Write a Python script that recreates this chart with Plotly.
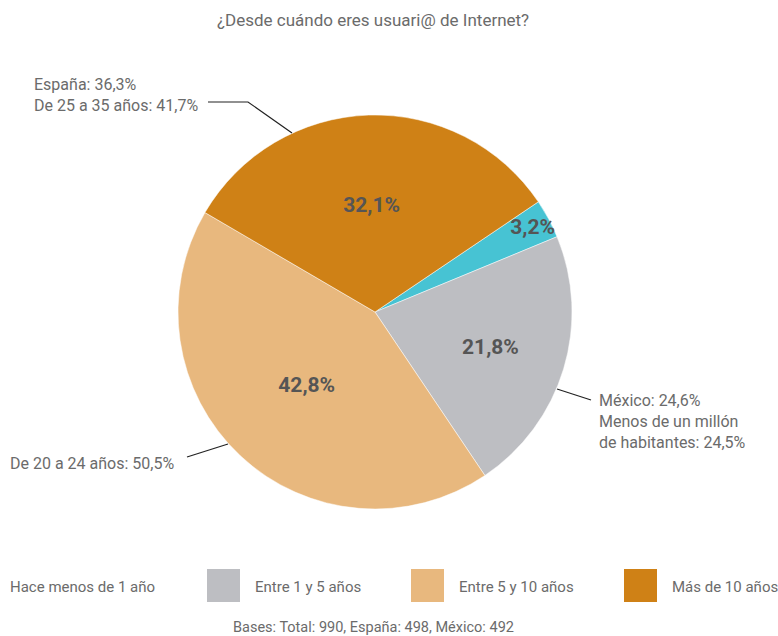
import plotly.graph_objects as go

categories = ["Hace menos de 1 año", "Entre 1 y 5 años", "Entre 5 y 10 años", "Más de 10 años"]
values = [3.2, 21.8, 42.8, 32.1]
colors = ["#47C3D3", "#BDBEC2", "#E8B87E", "#CF8116"]
title_text = "¿Desde cuándo eres usuari@ de Internet?"
footer_text = "Bases: Total: 990, España: 498, México: 492"
callouts = [
    "España: 36,3%<br>De 25 a 35 años: 41,7%",
    "México: 24,6%<br>Menos de un millón<br>de habitantes: 24,5%",
    "De 20 a 24 años: 50,5%",
]

W, H = 778, 636
FONT = "Roboto"
TXT = "#6b6b6b"

def px(x):
    return x / W

def py(y):
    return 1 - y / H

cx, cy, r = 375, 312, 197

fig = go.Figure(go.Pie(
    labels=categories,
    values=values,
    marker=dict(colors=colors, line=dict(color="white", width=0.5)),
    sort=False,
    direction="clockwise",
    rotation=56,
    text=[f"{v:.1f}%".replace(".", ",") for v in values],
    textinfo="text",
    textposition="inside",
    insidetextorientation="horizontal",
    textfont=dict(family=FONT, size=21, color="#555555", weight="bold"),
    hoverinfo="label+percent",
    showlegend=False,
    domain=dict(x=[px(cx - r), px(cx + r)], y=[py(cy + r), py(cy - r)]),
))

annotations = [
    dict(text=title_text, x=px(373), y=py(20), xref="paper", yref="paper",
         showarrow=False, xanchor="center", yanchor="middle",
         font=dict(family=FONT, size=17, color=TXT)),
    dict(text=footer_text, x=px(373), y=py(627), xref="paper", yref="paper",
         showarrow=False, xanchor="center", yanchor="middle",
         font=dict(family=FONT, size=14.5, color=TXT)),
    dict(text=callouts[0], x=px(32), y=py(95), xref="paper", yref="paper",
         showarrow=False, xanchor="left", yanchor="middle", align="left",
         font=dict(family=FONT, size=16, color=TXT)),
    dict(text=callouts[1], x=px(597), y=py(421), xref="paper", yref="paper",
         showarrow=False, xanchor="left", yanchor="middle", align="left",
         font=dict(family=FONT, size=16, color=TXT)),
    dict(text=callouts[2], x=px(8), y=py(464), xref="paper", yref="paper",
         showarrow=False, xanchor="left", yanchor="middle", align="left",
         font=dict(family=FONT, size=16, color=TXT)),
]

shapes = [
    dict(type="path", xref="paper", yref="paper",
         path=f"M {px(208)} {py(102)} L {px(248)} {py(102)} L {px(292)} {py(133)}",
         line=dict(color="#222222", width=1.2)),
    dict(type="line", xref="paper", yref="paper",
         x0=px(557), y0=py(389), x1=px(591), y1=py(400),
         line=dict(color="#222222", width=1.2)),
    dict(type="line", xref="paper", yref="paper",
         x0=px(187), y0=py(457), x1=px(228), y1=py(444),
         line=dict(color="#222222", width=1.2)),
]

# manual legend
legend_swatch_x = [None, 207, 411, 624]
legend_text_x = [8, 253, 457, 670]
for i, cat in enumerate(categories):
    if legend_swatch_x[i] is not None:
        x0 = legend_swatch_x[i]
        shapes.append(dict(type="rect", xref="paper", yref="paper",
                           x0=px(x0), x1=px(x0 + 33), y0=py(602), y1=py(569),
                           fillcolor=colors[i], line=dict(width=0)))
    annotations.append(dict(text=cat, x=px(legend_text_x[i]), y=py(587),
                            xref="paper", yref="paper", showarrow=False,
                            xanchor="left", yanchor="middle",
                            font=dict(family=FONT, size=15, color=TXT)))

fig.update_layout(
    width=W, height=H,
    margin=dict(l=0, r=0, t=0, b=0),
    paper_bgcolor="white", plot_bgcolor="white",
    annotations=annotations, shapes=shapes,
    uniformtext=dict(minsize=21, mode="show"),
)

fig.write_html(
    "out.html",
    config={"displayModeBar": False},
    post_script="document.body.style.margin='0';document.body.style.overflow='hidden';",
)
